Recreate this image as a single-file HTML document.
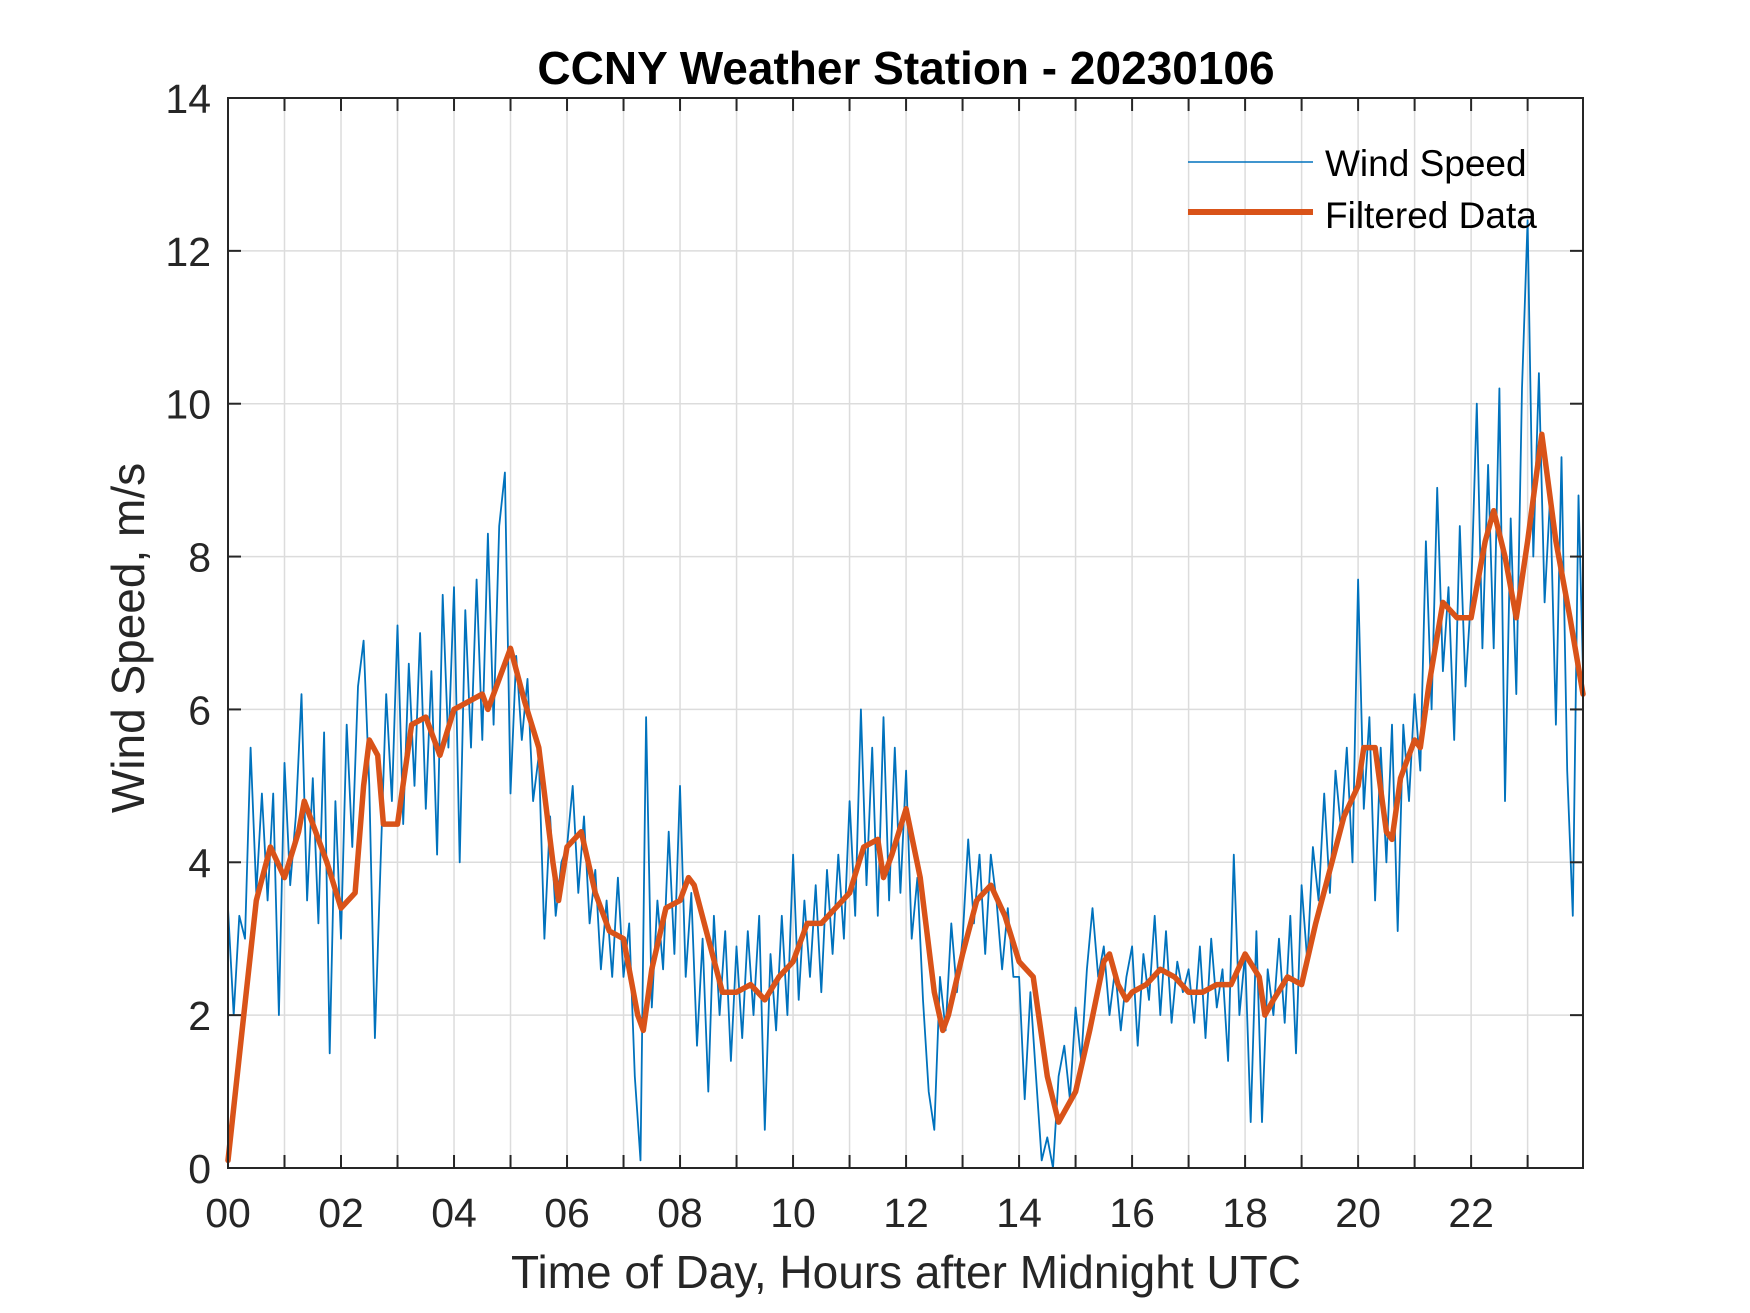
<!DOCTYPE html>
<html><head><meta charset="utf-8"><style>
html,body{margin:0;padding:0;background:#fff;}
svg{display:block;font-family:"Liberation Sans",Arial,sans-serif;}
</style></head><body>
<svg id="chart" width="1750" height="1313" viewBox="0 0 1750 1313" xmlns="http://www.w3.org/2000/svg">
<rect width="1750" height="1313" fill="#fff"/>
<g id="grid"></g>
<g id="series"></g>
<g id="axes"></g>
<text x="906" y="84" text-anchor="middle" font-size="46" font-weight="bold" fill="#000">CCNY Weather Station - 20230106</text>
<text x="906" y="1288" text-anchor="middle" font-size="46" fill="#262626">Time of Day, Hours after Midnight UTC</text>
<text transform="translate(144,638) rotate(-90)" text-anchor="middle" font-size="46" fill="#262626">Wind Speed, m/s</text>
<g>
<line x1="1188" y1="162" x2="1313" y2="162" stroke="#0072BD" stroke-width="1.6"/>
<text x="1325" y="176" font-size="37" fill="#000">Wind Speed</text>
<line x1="1188" y1="212" x2="1313" y2="212" stroke="#D95319" stroke-width="6"/>
<text x="1325" y="228" font-size="37" fill="#000">Filtered Data</text>
</g>
</svg>
<script>
const xTickLabels = ["00","02","04","06","08","10","12","14","16","18","20","22"];
const yTickLabels = ["0","2","4","6","8","10","12","14"];
const windValues = [
3.4,2.0,3.3,3.0,5.5,3.6,4.9,3.5,4.9,2.0,
5.3,3.7,4.6,6.2,3.5,5.1,3.2,5.7,1.5,4.8,
3.0,5.8,4.2,6.3,6.9,5.0,1.7,4.0,6.2,4.8,
7.1,4.5,6.6,5.0,7.0,4.7,6.5,4.1,7.5,5.5,
7.6,4.0,7.3,5.5,7.7,5.6,8.3,5.8,8.4,9.1,
4.9,6.7,5.6,6.4,4.8,5.4,3.0,4.6,3.3,4.0,
4.2,5.0,3.6,4.6,3.2,3.9,2.6,3.5,2.5,3.8,
2.5,3.2,1.2,0.1,5.9,2.1,3.5,2.6,4.4,2.8,
5.0,2.5,3.6,1.6,3.0,1.0,3.3,2.0,3.1,1.4,
2.9,1.7,3.1,2.0,3.3,0.5,2.8,1.8,3.3,2.0,
4.1,2.2,3.5,2.5,3.7,2.3,3.9,2.8,4.1,3.0,
4.8,3.3,6.0,3.7,5.5,3.3,5.9,3.5,5.5,3.6,
5.2,3.0,3.8,2.2,1.0,0.5,2.5,1.8,3.2,2.3,
3.0,4.3,3.2,4.1,2.8,4.1,3.5,2.6,3.4,2.5,
2.5,0.9,2.3,1.2,0.1,0.4,0.0,1.2,1.6,0.9,
2.1,1.4,2.6,3.4,2.5,2.9,2.0,2.6,1.8,2.5,
2.9,1.6,2.8,2.2,3.3,2.0,3.1,1.9,2.7,2.3,
2.6,1.9,2.9,1.7,3.0,2.1,2.6,1.4,4.1,2.0,
2.8,0.6,3.1,0.6,2.6,2.0,3.0,1.9,3.3,1.5,
3.7,2.7,4.2,3.5,4.9,3.6,5.2,4.4,5.5,4.0,
7.7,4.7,5.9,3.5,5.5,4.0,5.8,3.1,5.8,4.8,
6.2,5.2,8.2,6.0,8.9,6.5,7.6,5.6,8.4,6.3,
7.5,10.0,6.8,9.2,6.8,10.2,4.8,8.5,6.2,10.2,
12.4,8.0,10.4,7.4,8.8,5.8,9.3,5.2,3.3,8.8,
6.5];
const filtHours = [0,0.25,0.5,0.75,1.0,1.25,1.35,1.5,1.75,2.0,2.25,2.4,2.5,2.65,2.75,3.0,3.25,3.5,3.75,4.0,4.25,4.5,4.6,4.75,5.0,5.25,5.5,5.75,5.85,6.0,6.25,6.5,6.75,7.0,7.25,7.35,7.5,7.75,8.0,8.15,8.25,8.5,8.75,9.0,9.25,9.5,9.75,10.0,10.25,10.5,11.0,11.25,11.5,11.6,11.75,12.0,12.25,12.5,12.65,12.75,13.0,13.25,13.5,13.75,14.0,14.25,14.5,14.7,15.0,15.25,15.5,15.6,15.75,15.9,16.0,16.25,16.5,16.75,17.0,17.25,17.5,17.75,18.0,18.25,18.35,18.5,18.75,19.0,19.25,19.5,19.75,20.0,20.1,20.3,20.5,20.6,20.75,21.0,21.1,21.25,21.5,21.75,22.0,22.25,22.4,22.6,22.8,23.0,23.25,23.5,23.75,24.0];
const filtValues = [0.1,1.8,3.5,4.2,3.8,4.4,4.8,4.5,4.0,3.4,3.6,5.0,5.6,5.4,4.5,4.5,5.8,5.9,5.4,6.0,6.1,6.2,6.0,6.3,6.8,6.1,5.5,4.0,3.5,4.2,4.4,3.6,3.1,3.0,2.0,1.8,2.6,3.4,3.5,3.8,3.7,3.0,2.3,2.3,2.4,2.2,2.5,2.7,3.2,3.2,3.6,4.2,4.3,3.8,4.1,4.7,3.8,2.3,1.8,2.0,2.8,3.5,3.7,3.3,2.7,2.5,1.2,0.6,1.0,1.8,2.7,2.8,2.4,2.2,2.3,2.4,2.6,2.5,2.3,2.3,2.4,2.4,2.8,2.5,2.0,2.2,2.5,2.4,3.2,3.9,4.6,5.0,5.5,5.5,4.4,4.3,5.1,5.6,5.5,6.3,7.4,7.2,7.2,8.2,8.6,8.0,7.2,8.2,9.6,8.2,7.2,6.2];

const L=228,R=1583,T=98,B=1168,XMAX=23.98,YMAX=14;
const xs=h=>L+(R-L)*h/XMAX;
const ys=v=>B-(B-T)*v/YMAX;
const NS="http://www.w3.org/2000/svg";
function mk(tag,attrs,parent){const e=document.createElementNS(NS,tag);for(const k in attrs)e.setAttribute(k,attrs[k]);parent.appendChild(e);return e;}
const grid=document.getElementById('grid'),axes=document.getElementById('axes'),series=document.getElementById('series');
for(let h=1;h<24;h++){
  const g=mk('line',{x1:xs(h),y1:T,x2:xs(h),y2:B,stroke:'#dcdcdc','stroke-width':1.5},grid);
  
  
}
for(let i=1;i<yTickLabels.length-1;i++){
  const v=+yTickLabels[i];
  const g=mk('line',{x1:L,y1:ys(v),x2:R,y2:ys(v),stroke:'#dcdcdc','stroke-width':1.5},grid);
  
  
}
let d='';
windValues.forEach((v,i)=>{const h=Math.min(i*0.1,XMAX);d+=(i?'L':'M')+xs(h).toFixed(1)+' '+ys(v).toFixed(1);});
const wp=mk('path',{d:d,fill:'none',stroke:'#0072BD','stroke-width':1.8,'stroke-linejoin':'round'},series);


let d2='';
filtValues.forEach((v,i)=>{d2+=(i?'L':'M')+xs(Math.min(filtHours[i],XMAX)).toFixed(1)+' '+ys(v).toFixed(1);});
const fp=mk('path',{d:d2,fill:'none',stroke:'#D95319','stroke-width':5.5,'stroke-linejoin':'round','stroke-linecap':'round'},series);


const box=mk('rect',{x:L,y:T,width:R-L,height:B-T,fill:'none',stroke:'#262626','stroke-width':2},axes);


for(let h=1;h<24;h++){
  mk('line',{x1:xs(h),y1:B,x2:xs(h),y2:B-13,stroke:'#262626','stroke-width':2},axes);
  mk('line',{x1:xs(h),y1:T,x2:xs(h),y2:T+13,stroke:'#262626','stroke-width':2},axes);
}
xTickLabels.forEach((lab,i)=>{
  const t=mk('text',{x:xs(i*2),y:1227,'text-anchor':'middle','font-size':41,fill:'#262626'},axes);
  t.textContent=lab;
  
  
});
yTickLabels.forEach((lab)=>{
  const v=+lab;
  mk('line',{x1:L,y1:ys(v),x2:L+13,y2:ys(v),stroke:'#262626','stroke-width':2},axes);
  mk('line',{x1:R,y1:ys(v),x2:R-13,y2:ys(v),stroke:'#262626','stroke-width':2},axes);
  const t=mk('text',{x:211,y:ys(v)+15,'text-anchor':'end','font-size':41,fill:'#262626'},axes);
  t.textContent=lab;
  
  
});
</script>
</body></html>
